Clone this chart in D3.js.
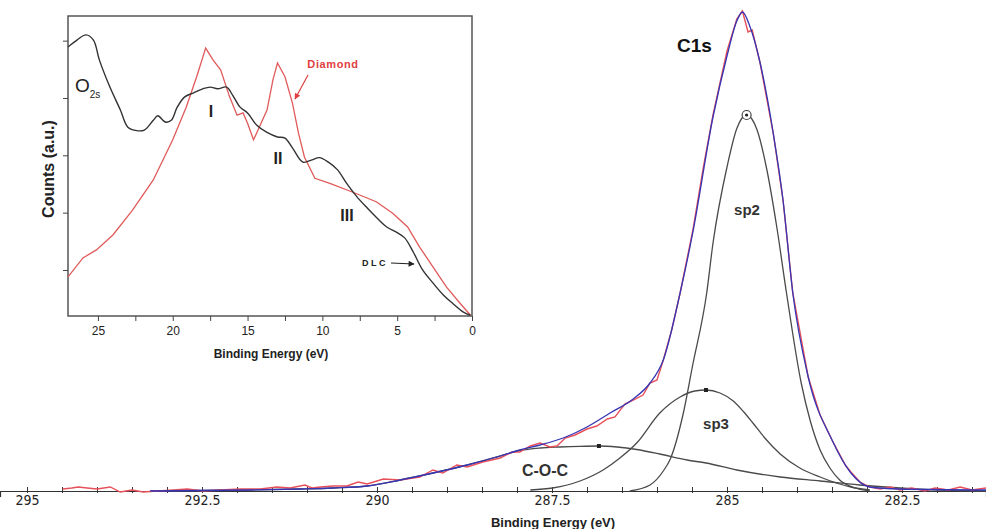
<!DOCTYPE html>
<html><head><meta charset="utf-8">
<script src="https://cdn.jsdelivr.net/npm/d3@7"></script>
<style>
html,body{margin:0;padding:0;background:#fff;}
svg{display:block;font-family:"Liberation Sans",Arial,sans-serif;}
</style></head>
<body>
<svg id="c" width="986" height="529"></svg>
<script>
// ---------------- DATA ----------------
// Main C1s spectrum: [binding energy (eV), counts (a.u.)]
const c1sData = [[294.49,20],[294.36,30],[294.27,40],[294.14,30],[294.00,20],[293.81,40],[293.67,-10],[293.50,10],[293.34,-10],[293.14,0],[292.91,10],[292.71,20],[292.49,0],[292.24,10],[291.96,20],[291.67,20],[291.43,40],[291.24,30],[291.03,60],[290.93,30],[290.81,40],[290.63,50],[290.43,50],[290.27,90],[290.14,70],[289.91,120],[289.67,110],[289.39,140],[289.20,210],[289.06,180],[288.86,260],[288.71,240],[288.49,290],[288.24,330],[288.07,390],[287.96,390],[287.81,450],[287.67,480],[287.53,440],[287.43,450],[287.31,530],[287.17,560],[287.00,620],[286.86,650],[286.71,720],[286.60,740],[286.46,870],[286.34,910],[286.20,960],[286.10,1080],[286.00,1110],[285.91,1310],[285.79,1610],[285.67,1980],[285.49,2600],[285.34,3230],[285.20,3760],[285.00,4400],[284.86,4720],[284.78,4800],[284.70,4590],[284.64,4610],[284.53,4290],[284.34,3580],[284.20,2910],[284.06,1980],[283.84,1140],[283.67,760],[283.50,510],[283.31,260],[283.23,190],[283.10,90],[282.96,40],[282.81,20],[282.67,40],[282.53,10],[282.36,30],[282.17,0],[282.03,30],[281.84,10],[281.67,40],[281.50,10],[281.30,30]];
const c1sEnvelope = [[293.24,0],[291.81,10],[291.10,20],[290.63,30],[290.14,50],[289.67,110],[289.20,180],[288.71,260],[288.24,350],[287.96,410],[287.67,460],[287.34,530],[287.00,640],[286.67,780],[286.34,920],[286.10,1080],[285.91,1310],[285.67,1980],[285.49,2580],[285.20,3740],[285.00,4350],[284.86,4700],[284.78,4790],[284.67,4640],[284.53,4290],[284.34,3580],[284.20,2910],[284.06,1980],[283.84,1140],[283.50,510],[283.23,180],[282.96,40],[282.53,20],[281.30,10]];
const sp2Peak = [[286.39,0],[286.10,60],[285.91,200],[285.81,320],[285.63,760],[285.49,1260],[285.29,1980],[285.20,2480],[285.00,3240],[284.86,3625],[284.72,3760],[284.57,3610],[284.43,3210],[284.29,2645],[284.15,1980],[283.94,1080],[283.81,700],[283.67,410],[283.53,230],[283.39,110],[283.17,30],[282.96,0]];
const sp3Peak = [[287.81,10],[287.49,30],[287.10,100],[286.77,210],[286.53,330],[286.29,480],[285.96,780],[285.67,940],[285.46,1000],[285.30,1010],[285.10,980],[284.91,900],[284.76,790],[284.63,680],[284.46,530],[284.24,370],[283.96,230],[283.67,140],[283.39,70],[283.23,40],[282.96,10]];
const cocPeak = [[293.24,0],[291.81,10],[291.10,20],[290.63,30],[290.14,50],[289.67,110],[289.20,180],[288.71,260],[288.24,350],[287.96,405],[287.67,430],[287.39,440],[287.10,447],[286.83,450],[286.57,440],[286.29,415],[285.96,370],[285.57,310],[285.30,280],[284.86,210],[284.24,140],[283.67,100],[283.11,60],[282.53,30],[281.96,10],[281.30,0]];
const mainTickLabels = [295, 292.5, 290, 287.5, 285, 282.5];
const peakLabels = ["C1s", "sp2", "sp3", "C-O-C"];

// Inset valence band: [binding energy (eV), counts (a.u.)]
const dlcBand = [[27.0,4890],[26.4,5010],[25.8,5100],[25.3,5010],[24.9,4660],[24.2,4190],[23.5,3790],[23.0,3490],[22.4,3430],[21.9,3440],[21.3,3610],[21.0,3690],[20.5,3580],[20.1,3610],[19.7,3840],[19.2,4020],[18.6,4090],[18.0,4160],[17.5,4190],[17.0,4160],[16.4,4190],[16.0,4050],[15.5,3840],[15.0,3740],[14.4,3530],[13.7,3400],[13.0,3320],[12.5,3300],[12.0,3130],[11.3,2880],[10.7,2920],[10.2,2960],[9.6,2880],[9.0,2750],[8.4,2520],[7.7,2280],[7.0,2080],[6.4,1920],[5.7,1750],[5.0,1650],[4.5,1560],[3.9,1300],[3.3,1000],[2.6,770],[1.9,560],[1.3,420],[0.6,270],[0.1,210]];
const diamondBand = [[27.0,880],[26.0,1210],[25.1,1350],[24.0,1610],[22.7,2040],[21.3,2570],[20.0,3270],[19.1,3840],[18.4,4370],[17.8,4870],[17.3,4660],[16.8,4490],[16.2,4020],[15.7,3700],[15.3,3740],[15.0,3560],[14.6,3270],[14.3,3440],[13.7,3790],[13.3,4320],[13.0,4610],[12.5,4370],[12.0,3910],[11.6,3390],[11.2,2970],[10.5,2600],[9.5,2510],[8.0,2360],[6.4,2190],[5.3,1990],[4.3,1750],[3.5,1400],[2.6,1050],[1.7,700],[0.8,420],[0.1,210]];
const insetTickLabels = [25, 20, 15, 10, 5, 0];
const insetYTicks = [1000, 2000, 3000, 4000, 5000];
const bandLabels = ["I", "II", "III"];
const bandLabelPos = [[17.45, 3670], [12.97, 2850], [8.36, 1854]];

// ---------------- DRAW ----------------
const svg = d3.select("#c");
const x = d3.scaleLinear().domain([295.386, 281.3]).range([0, 986]);
const y = d3.scaleLinear().domain([0, 5000]).range([491, -9]);

// main axis
const minorTicks = d3.range(281.5, 295.01, 0.5);
const ax = svg.append("g").attr("transform", "translate(0,491)")
  .call(d3.axisBottom(x).tickValues(minorTicks).tickSize(6).tickFormat(""));
ax.select(".domain").attr("stroke", "#333").attr("stroke-width", 1.2);
ax.selectAll(".tick line").attr("y1", -4).attr("y2", 2).attr("stroke", "#333");
const axl = svg.append("g").attr("transform", "translate(0,491)")
  .call(d3.axisBottom(x).tickValues(mainTickLabels).tickSize(0).tickPadding(6).tickFormat(d => String(d)));
axl.select(".domain").remove();
axl.selectAll("text").attr("font-family", "'Liberation Sans Narrow','DejaVu Sans Condensed',sans-serif")
  .attr("font-size", 14).attr("fill", "#222").attr("dy", "0.6em");
svg.append("text").attr("x", 553).attr("y", 527).attr("text-anchor", "middle")
  .attr("font-weight", "bold").attr("font-size", 13).attr("fill", "#222").text("Binding Energy (eV)");

const smooth = d3.line().x(d => x(d[0])).y(d => y(d[1])).curve(d3.curveMonotoneX);
const raw = d3.line().x(d => x(d[0])).y(d => y(d[1]));

[sp2Peak, sp3Peak, cocPeak].forEach(s => {
  svg.append("path").attr("d", smooth(s)).attr("fill", "none").attr("stroke", "#4a4a4a").attr("stroke-width", 1.3);
});
svg.append("path").attr("d", raw(c1sData)).attr("fill", "none").attr("stroke", "#e8505a").attr("stroke-width", 1.4);
svg.append("path").attr("d", smooth(c1sEnvelope)).attr("fill", "none").attr("stroke", "#3535b5").attr("stroke-width", 1.3);

// peak markers
const apex = s => s.reduce((a, b) => b[1] > a[1] ? b : a);
const p2 = apex(sp2Peak), p3 = apex(sp3Peak), pc = apex(cocPeak);
svg.append("circle").attr("cx", x(p2[0])).attr("cy", y(p2[1])).attr("r", 4.5).attr("fill", "#fff").attr("stroke", "#444").attr("stroke-width", 1.2);
svg.append("circle").attr("cx", x(p2[0])).attr("cy", y(p2[1])).attr("r", 1.6).attr("fill", "#222");
svg.append("rect").attr("x", x(p3[0]) - 2).attr("y", y(p3[1]) - 2).attr("width", 4).attr("height", 4).attr("fill", "#222");
svg.append("rect").attr("x", x(pc[0]) - 2).attr("y", y(pc[1]) - 2).attr("width", 4).attr("height", 4).attr("fill", "#222");

// peak labels
svg.append("text").attr("x", 677).attr("y", 52).attr("font-weight", "bold").attr("font-size", 19).attr("fill", "#111").text(peakLabels[0]);
svg.append("text").attr("x", 747).attr("y", 215).attr("text-anchor", "middle").attr("font-weight", "bold").attr("font-size", 15).attr("fill", "#333").text(peakLabels[1]);
svg.append("text").attr("x", 716).attr("y", 429).attr("text-anchor", "middle").attr("font-weight", "bold").attr("font-size", 15).attr("fill", "#333").text(peakLabels[2]);
svg.append("text").attr("x", 545).attr("y", 476).attr("text-anchor", "middle").attr("font-weight", "bold").attr("font-size", 16).attr("fill", "#333").text(peakLabels[3]);

// ---------------- INSET ----------------
const ix = d3.scaleLinear().domain([27, 0]).range([68, 472]);
const iy = d3.scaleLinear().domain([197, 5430]).range([316, 16]);
const ins = svg.append("g");
ins.append("rect").attr("x", 68).attr("y", 16).attr("width", 404).attr("height", 300)
  .attr("fill", "#fff").attr("stroke", "#555").attr("stroke-width", 1.5);
const ixa = ins.append("g").attr("transform", "translate(0,316)")
  .call(d3.axisBottom(ix).tickValues(d3.range(0, 26, 2.5)).tickSize(5).tickFormat(""));
ixa.select(".domain").remove();
ixa.selectAll(".tick line").attr("stroke", "#444");
const ixl = ins.append("g").attr("transform", "translate(0,316)")
  .call(d3.axisBottom(ix).tickValues(insetTickLabels).tickSize(0).tickPadding(10).tickFormat(d => String(d)));
ixl.select(".domain").remove();
ixl.selectAll("text").attr("font-size", 12).attr("fill", "#222").attr("font-family", "'Liberation Sans',Arial,sans-serif");
const iya = ins.append("g").attr("transform", "translate(68,0)")
  .call(d3.axisLeft(iy).tickValues(insetYTicks).tickSize(5).tickFormat(""));
iya.select(".domain").remove();
iya.selectAll(".tick line").attr("stroke", "#444");
ins.append("text").attr("x", 271).attr("y", 358).attr("text-anchor", "middle").attr("font-weight", "bold")
  .attr("font-size", 12).attr("fill", "#222").text("Binding Energy (eV)");
ins.append("text").attr("transform", "translate(54,169) rotate(-90)").attr("text-anchor", "middle")
  .attr("font-weight", "bold").attr("font-size", 16).attr("fill", "#222").text("Counts (a.u.)");

const il = d3.line().x(d => ix(d[0])).y(d => iy(d[1]));
const ilSmooth = d3.line().x(d => ix(d[0])).y(d => iy(d[1])).curve(d3.curveCatmullRom.alpha(0.5));
ins.append("path").attr("d", il(diamondBand)).attr("fill", "none").attr("stroke", "#e05a5a").attr("stroke-width", 1.3);
ins.append("path").attr("d", ilSmooth(dlcBand)).attr("fill", "none").attr("stroke", "#333").attr("stroke-width", 1.4);

// inset labels
const o2 = ins.append("text").attr("x", 75).attr("y", 92).attr("font-size", 19).attr("fill", "#222");
o2.append("tspan").text("O");
o2.append("tspan").attr("font-size", 10).attr("dy", 6).text("2s");
bandLabels.forEach((t, i) => {
  ins.append("text").attr("x", ix(bandLabelPos[i][0])).attr("y", iy(bandLabelPos[i][1]))
    .attr("text-anchor", "middle").attr("font-weight", "bold").attr("font-size", 16).attr("fill", "#222").text(t);
});
ins.append("text").attr("x", 333).attr("y", 68).attr("text-anchor", "middle").attr("font-weight", "bold")
  .attr("font-size", 11).attr("letter-spacing", 0.6).attr("fill", "#e04040").text("Diamond");
ins.append("text").attr("x", 375).attr("y", 266).attr("text-anchor", "middle").attr("font-weight", "bold")
  .attr("font-size", 9).attr("letter-spacing", 2.5).attr("fill", "#222").text("DLC");

const defs = svg.append("defs");
[["ar", "#e04040"], ["ab", "#222"]].forEach(([id, c]) => {
  defs.append("marker").attr("id", id).attr("viewBox", "0 0 10 10").attr("refX", 9).attr("refY", 5)
    .attr("markerWidth", 6).attr("markerHeight", 5).attr("orient", "auto")
    .append("path").attr("d", "M0,0L10,5L0,10z").attr("fill", c);
});
ins.append("line").attr("x1", 308).attr("y1", 75).attr("x2", 295).attr("y2", 99)
  .attr("stroke", "#e04040").attr("stroke-width", 1.2).attr("marker-end", "url(#ar)");
ins.append("line").attr("x1", 391).attr("y1", 263).attr("x2", 414).attr("y2", 264)
  .attr("stroke", "#222").attr("stroke-width", 1.2).attr("marker-end", "url(#ab)");
</script>
</body></html>
